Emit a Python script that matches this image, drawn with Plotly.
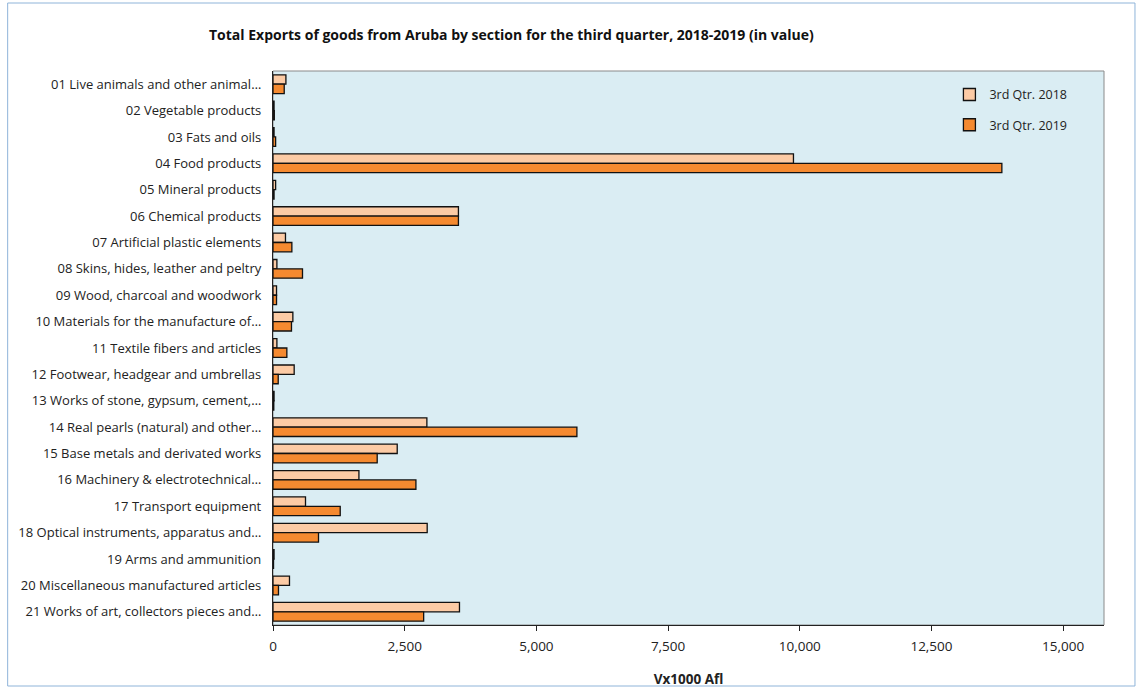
import plotly.graph_objects as go

categories = [
    "01 Live animals and other animal…",
    "02 Vegetable products",
    "03 Fats and oils",
    "04 Food products",
    "05 Mineral products",
    "06 Chemical products",
    "07 Artificial plastic elements",
    "08 Skins, hides, leather and peltry",
    "09 Wood, charcoal and woodwork",
    "10 Materials for the manufacture of…",
    "11 Textile fibers and articles",
    "12 Footwear, headgear and umbrellas",
    "13 Works of stone, gypsum, cement,…",
    "14 Real pearls (natural) and other…",
    "15 Base metals and derivated works",
    "16 Machinery & electrotechnical…",
    "17 Transport equipment",
    "18 Optical instruments, apparatus and…",
    "19 Arms and ammunition",
    "20 Miscellaneous manufactured articles",
    "21 Works of art, collectors pieces and…",
]
q3_2018 = [245, 20, 20, 9880, 50, 3520, 237, 74, 67, 377, 74, 402, 20,
           2921, 2358, 1631, 617, 2927, 20, 313, 3540]
q3_2019 = [213, 25, 50, 13836, 20, 3520, 358, 560, 67, 351, 263, 99, 15,
           5769, 1978, 2713, 1276, 864, 10, 104, 2860]
series_names = ["3rd Qtr. 2018", "3rd Qtr. 2019"]
x_ticks = [0, 2500, 5000, 7500, 10000, 12500, 15000]

FONT = "Open Sans"
fig = go.Figure()
fig.add_trace(go.Bar(y=categories, x=q3_2018, name=series_names[0], orientation="h",
                     legendgroup="a",
                     marker=dict(color="#FCCBA5", line=dict(color="#111111", width=1.3))))
fig.add_trace(go.Bar(y=categories, x=q3_2019, name=series_names[1], orientation="h",
                     legendgroup="b",
                     marker=dict(color="#F58A30", line=dict(color="#111111", width=1.3))))

L, R, T, B = 272.5, 1104, 71, 625
W, H = 1139, 689
fig.update_layout(
    width=W, height=H,
    margin=dict(l=L, r=W - R, t=T, b=H - B, autoexpand=False),
    paper_bgcolor="white",
    plot_bgcolor="#DAEDF3",
    barmode="group",
    bargap=0.29,
    bargroupgap=0,
    font=dict(family=FONT, size=13, color="#222222"),
    showlegend=True,
    legend=dict(x=0.962, y=0.984, xanchor="right", yanchor="top",
                bgcolor="rgba(0,0,0,0)", font=dict(size=12.5, family=FONT),
                itemwidth=30, tracegroupgap=11, traceorder="grouped"),
    xaxis=dict(range=[0, 15775], tickvals=x_ticks, tickformat=",",
               showgrid=False, zeroline=False, showline=True, linecolor="#222222",
               linewidth=1.3, ticks="outside", ticklen=5, tickcolor="#222222",
               ticklabelstandoff=4,
               tickfont=dict(size=13.5, family=FONT),
               title=dict(text="<b>Vx1000 Afl</b>", font=dict(size=13.5, family=FONT), standoff=20)),
    yaxis=dict(autorange="reversed", showgrid=False, zeroline=False, showline=True,
               linecolor="#222222", linewidth=1.3, ticks="", ticklen=0,
               ticklabelstandoff=8,
               tickfont=dict(size=13, family=FONT)),
)

fig.add_annotation(text="<b>Total Exports of goods from Aruba by section for the third quarter, 2018-2019 (in value)</b>",
                   xref="paper", yref="paper", x=(511 - L) / (R - L), y=1 + (T - 35) / (B - T),
                   xanchor="center", yanchor="middle", showarrow=False,
                   font=dict(size=14, family=FONT, color="#111111"))

# plot area border (gray top/right)
fig.add_shape(type="rect", xref="paper", yref="paper", x0=0, x1=1, y0=0, y1=1,
              line=dict(color="#8a8a8a", width=1), layer="below")
# outer chart border
fig.add_shape(type="rect", xref="paper", yref="paper",
              x0=(7 - L) / (R - L), x1=(1135 - L) / (R - L),
              y0=-(686 - B) / (B - T), y1=1 + (T - 3) / (B - T),
              line=dict(color="#8fb4d9", width=1))

fig.write_html("out.html", config={"displayModeBar": False},
               post_script="document.body.style.margin='0';document.body.style.overflow='hidden';")
